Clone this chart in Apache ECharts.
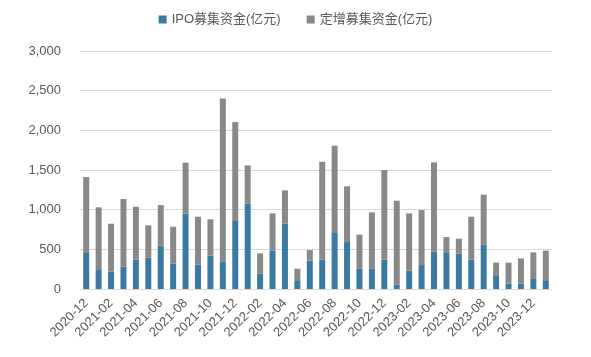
<!DOCTYPE html>
<html><head><meta charset="utf-8">
<script src="https://cdn.jsdelivr.net/npm/echarts@6/dist/echarts.min.js"></script>
<style>html,body{margin:0;padding:0;background:#fff}#c{width:591px;height:357px}</style>
</head><body><div id="c"></div>
<script>
var categories = ["2020-12","2021-01","2021-02","2021-03","2021-04","2021-05","2021-06","2021-07","2021-08","2021-09","2021-10","2021-11","2021-12","2022-01","2022-02","2022-03","2022-04","2022-05","2022-06","2022-07","2022-08","2022-09","2022-10","2022-11","2022-12","2023-01","2023-02","2023-03","2023-04","2023-05","2023-06","2023-07","2023-08","2023-09","2023-10","2023-11","2023-12","2024-01"];
var ipoValues = [454,239,218,281,370,395,546,319,949,307,420,344,857,1079,193,483,823,101,357,370,706,592,256,256,370,55,231,302,470,454,445,370,559,164,67,67,126,101];
var placementValues = [957,790,605,853,667,407,512,466,643,604,458,2058,1247,479,256,470,420,155,134,1234,1100,702,429,710,1129,1058,722,693,1126,201,189,541,630,168,265,319,336,382];
var yTicks = [0,500,1000,1500,2000,2500,3000];

var chart = echarts.init(document.getElementById('c'));
var txt = '#595959';
chart.setOption({
  animation:false,
  legend:{top:8,left:'center',itemWidth:8,itemHeight:8,itemGap:26,icon:'rect',
    textStyle:{color:txt,fontSize:13,fontFamily:'Liberation Sans, Noto Sans CJK SC'}},
  grid:{left:80,right:39,top:51,bottom:68},
  xAxis:{type:'category',data:categories,
    axisLine:{lineStyle:{color:'#d9d9d9'}},axisTick:{show:false},
    axisLabel:{interval:1,rotate:45,color:txt,fontSize:13,fontFamily:'Liberation Sans',margin:12}},
  yAxis:{type:'value',min:yTicks[0],max:yTicks[yTicks.length-1],interval:500,
    axisLine:{show:false},axisTick:{show:false},
    splitLine:{lineStyle:{color:'#d9d9d9',width:1}},
    axisLabel:{color:txt,fontSize:13,fontFamily:'Liberation Sans',margin:19,
      formatter:function(v){return v.toLocaleString('en-US');}}},
  series:[
    {name:'IPO募集资金(亿元)',type:'bar',stack:'a',data:ipoValues,barWidth:6,itemStyle:{color:'#3a7aa0'}},
    {name:'定增募集资金(亿元)',type:'bar',stack:'a',data:placementValues,barWidth:6,itemStyle:{color:'#898989'}}
  ]
});
</script></body></html>
